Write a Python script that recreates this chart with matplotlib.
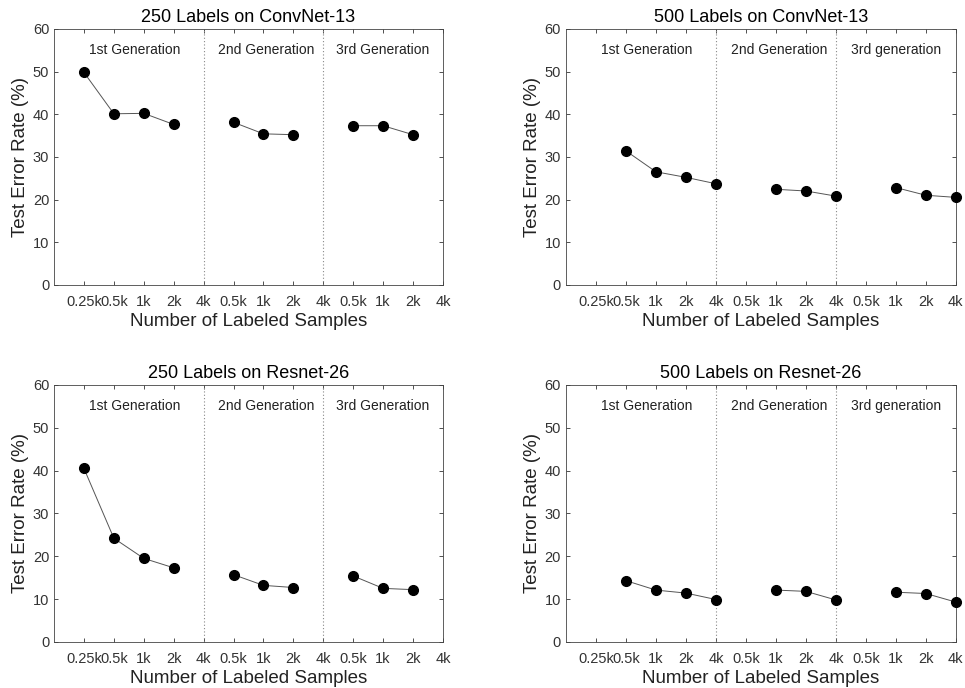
import matplotlib.pyplot as plt

plt.rcParams['font.family'] = ['Liberation Sans', 'DejaVu Sans']

# tick labels shared by all four panels (positions 1..13)
tick_labels = ['0.25k', '0.5k', '1k', '2k', '4k',
               '0.5k', '1k', '2k', '4k',
               '0.5k', '1k', '2k', '4k']
gen_names_250 = ['1st Generation', '2nd Generation', '3rd Generation']
gen_names_500 = ['1st Generation', '2nd Generation', '3rd generation']

# x positions for each generation
x_250 = [[1, 2, 3, 4], [6, 7, 8], [10, 11, 12]]
x_500 = [[2, 3, 4, 5], [7, 8, 9], [11, 12, 13]]

# test error rates (%)
conv_250 = [[49.8, 40.1, 40.2, 37.6], [38.1, 35.4, 35.2], [37.3, 37.3, 35.2]]
conv_500 = [[31.4, 26.5, 25.2, 23.7], [22.4, 22.0, 20.8], [22.8, 21.0, 20.5]]
res_250 = [[40.5, 24.2, 19.5, 17.3], [15.7, 13.2, 12.7], [15.4, 12.5, 12.2]]
res_500 = [[14.3, 12.1, 11.4, 9.9], [12.1, 11.8, 9.8], [11.6, 11.3, 9.3]]

panels = [
    ('250 Labels on ConvNet-13', x_250, conv_250, gen_names_250),
    ('500 Labels on ConvNet-13', x_500, conv_500, gen_names_500),
    ('250 Labels on Resnet-26', x_250, res_250, gen_names_250),
    ('500 Labels on Resnet-26', x_500, res_500, gen_names_500),
]

positions = [
    [0.056, 0.586, 0.403, 0.372],
    [0.5865, 0.586, 0.404, 0.372],
    [0.056, 0.067, 0.403, 0.3735],
    [0.5865, 0.067, 0.404, 0.3735],
]

fig = plt.figure(figsize=(9.65, 6.88), dpi=100)

for (title, xs, ys, names), pos in zip(panels, positions):
    ax = fig.add_axes(pos)
    for xg, yg in zip(xs, ys):
        ax.plot(xg, yg, color='#555555', lw=0.7, marker='o',
                markersize=7, markerfacecolor='black', markeredgecolor='black',
                clip_on=False, zorder=3)
    for xv in [5, 9]:
        ax.axvline(xv, color='#888888', lw=0.8, ls=(0, (1, 2)))
    for xc, name in zip([2.7, 7.1, 11.0], names):
        ax.text(xc, 55, name, ha='center', va='center', fontsize=10, color='#222222')
    ax.set_xlim(0, 13)
    ax.set_ylim(0, 60)
    ax.set_xticks(range(1, 14))
    ax.set_xticklabels(tick_labels)
    ax.set_yticks(range(0, 61, 10))
    ax.tick_params(direction='in', top=True, right=True, length=3,
                   labelsize=10.5, colors='#333333', width=0.6)
    ax.tick_params(axis='x', pad=7)
    for sp in ax.spines.values():
        sp.set_color('#444444')
        sp.set_linewidth(0.6)
    ax.set_title(title, fontsize=13, pad=5)
    ax.set_xlabel('Number of Labeled Samples', fontsize=13.5, color='#222222', labelpad=3)
    ax.set_ylabel('Test Error Rate (%)', fontsize=13.5, color='#222222', labelpad=3)

fig.savefig('out.png', dpi=100)
